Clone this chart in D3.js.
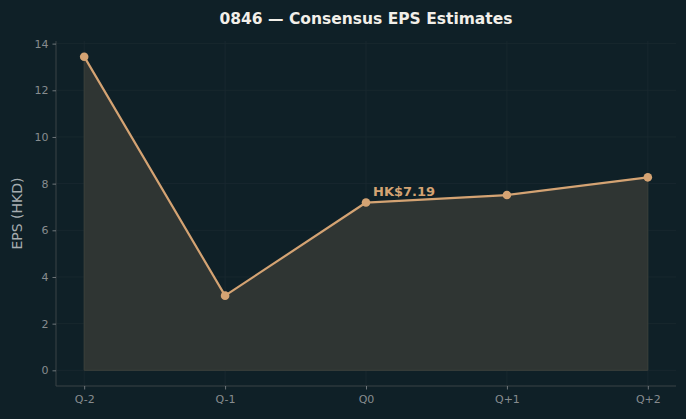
<!DOCTYPE html>
<html>
<head>
<meta charset="utf-8">
<script src="https://cdn.jsdelivr.net/npm/d3@7"></script>
<style>
  html, body { margin: 0; padding: 0; background: #0f2027; }
  svg { display: block; font-family: "DejaVu Sans", sans-serif; }
</style>
</head>
<body>
<svg id="chart" width="686" height="419"></svg>
<script>
// data
const quarters = ["Q-2", "Q-1", "Q0", "Q+1", "Q+2"];
const epsValues = [13.44, 3.2, 7.19, 7.51, 8.27];
const yTicks = [0, 2, 4, 6, 8, 10, 12, 14];
const highlightIndex = 2;

const W = 686, H = 419;
const margin = { top: 41, right: 10, bottom: 33, left: 56 };

const svg = d3.select("#chart");
svg.append("rect").attr("width", W).attr("height", H).attr("fill", "#0f2027");

// 5% padding each side, like the source plot
const xi = d3.scaleLinear().domain([-0.2, 4.2]).range([margin.left, W - margin.right]);
const y = d3.scaleLinear().domain([-0.672, 14.112]).range([H - margin.bottom, margin.top]);

const g = svg.append("g");

// grid
g.append("g").selectAll("line").data(yTicks).join("line")
  .attr("x1", margin.left).attr("x2", W - margin.right)
  .attr("y1", d => y(d)).attr("y2", d => y(d))
  .attr("stroke", "#1a2a30").attr("stroke-width", 0.8);
g.append("g").selectAll("line").data(quarters).join("line")
  .attr("x1", (d, i) => xi(i)).attr("x2", (d, i) => xi(i))
  .attr("y1", margin.top).attr("y2", H - margin.bottom)
  .attr("stroke", "#1a2a30").attr("stroke-width", 0.8);

// area
const area = d3.area()
  .x((d, i) => xi(i))
  .y0(y(0))
  .y1(d => y(d));
g.append("path")
  .datum(epsValues)
  .attr("d", area)
  .attr("fill", "#2f3533")
  .attr("stroke", "#3c403b")
  .attr("stroke-width", 1);

// line + points
const line = d3.line().x((d, i) => xi(i)).y(d => y(d));
g.append("path")
  .datum(epsValues)
  .attr("d", line)
  .attr("fill", "none")
  .attr("stroke", "#d4a373")
  .attr("stroke-width", 2.2)
  .attr("stroke-linejoin", "round");

g.append("g").selectAll("circle").data(epsValues).join("circle")
  .attr("cx", (d, i) => xi(i))
  .attr("cy", d => y(d))
  .attr("r", 4.3)
  .attr("fill", "#d4a373");

// annotation on current quarter
g.append("text")
  .attr("x", xi(highlightIndex) + 7)
  .attr("y", y(epsValues[highlightIndex]) - 6.5)
  .attr("fill", "#d4a373")
  .attr("font-size", 13)
  .attr("font-weight", "bold")
  .text("HK$" + epsValues[highlightIndex].toFixed(2));

// axes
const axisColor = "#3a4246";
const tickText = "#878c8f";

const yAxis = svg.append("g").attr("transform", `translate(${margin.left},0)`)
  .call(d3.axisLeft(y).tickValues(yTicks).tickSize(3.5).tickPadding(4));
const xAxis = svg.append("g").attr("transform", `translate(0,${H - margin.bottom})`)
  .call(d3.axisBottom(xi).tickValues(d3.range(quarters.length)).tickFormat(i => quarters[i]).tickSize(3.5).tickPadding(6));

[yAxis, xAxis].forEach(a => {
  a.select(".domain").attr("stroke", axisColor).attr("stroke-width", 1);
  a.selectAll(".tick line").attr("stroke", tickText).attr("stroke-width", 0.8);
  a.selectAll(".tick text").attr("fill", tickText).attr("font-size", 11)
    .attr("font-family", "DejaVu Sans, sans-serif");
});
xAxis.select(".domain").attr("d", `M${margin.left},0H${W - margin.right}`);
yAxis.select(".domain").attr("d", `M0,${margin.top}V${H - margin.bottom}`);

// title + y label
svg.append("text")
  .attr("x", (margin.left + W - margin.right) / 2)
  .attr("y", 24)
  .attr("text-anchor", "middle")
  .attr("fill", "#f2efe9")
  .attr("font-size", 15.5)
  .attr("font-weight", "bold")
  .text("0846 — Consensus EPS Estimates");

svg.append("text")
  .attr("transform", `translate(22,${(margin.top + H - margin.bottom) / 2}) rotate(-90)`)
  .attr("text-anchor", "middle")
  .attr("fill", "#a6adb0")
  .attr("font-size", 14)
  .text("EPS (HKD)");
</script>
</body>
</html>
